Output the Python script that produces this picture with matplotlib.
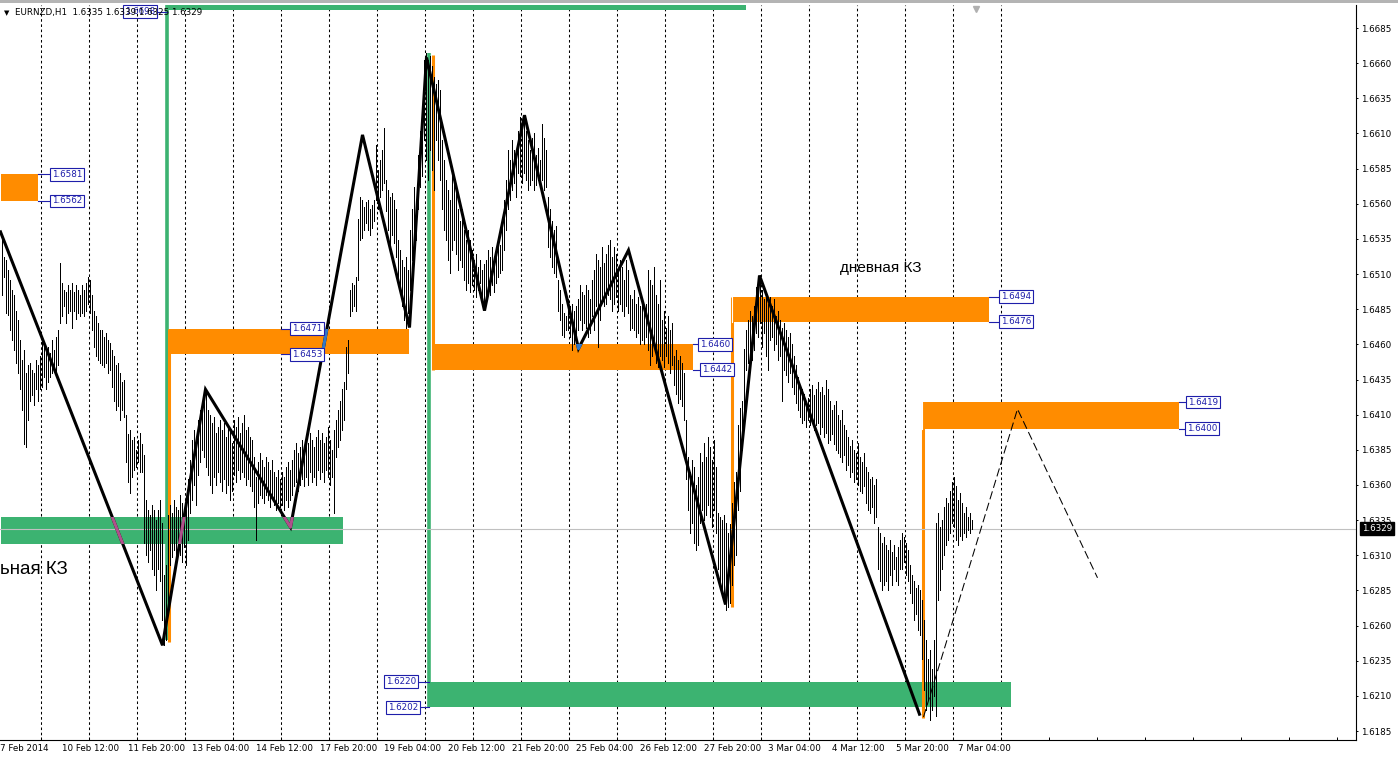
import matplotlib
matplotlib.use("Agg")
import matplotlib.pyplot as plt
from matplotlib.patches import Rectangle
import numpy as np

W, H, DPI = 1398, 758, 100

# ---------------- data (prices in 1e-4 units) ----------------
highs = [
    16538,16522,16520,16513,16506,16499,16495,16484,16477,16463,
    16449,16456,16440,16445,16447,16442,16440,16449,16445,16452,
    16463,16461,16456,16458,16454,16463,16456,16465,16470,16518,
    16504,16499,16497,16502,16499,16504,16497,16502,16499,16495,
    16502,16499,16504,16508,16506,16495,16484,16480,16475,16470,
    16470,16465,16468,16463,16461,16456,16452,16445,16447,16440,
    16433,16435,16410,16396,16399,16392,16394,16385,16392,16397,
    16389,16381,16349,16342,16339,16346,16342,16335,16342,16349,
    16333,16296,16303,16339,16346,16340,16349,16344,16342,16353,
    16347,16342,16349,16364,16378,16392,16399,16387,16406,16413,
    16420,16428,16426,16413,16410,16404,16408,16397,16401,16406,
    16399,16404,16394,16401,16399,16390,16406,16401,16408,16397,
    16404,16410,16399,16401,16394,16392,16380,16366,16376,16383,
    16378,16373,16380,16376,16371,16378,16369,16366,16371,16364,
    16369,16366,16373,16376,16371,16378,16385,16390,16383,16387,
    16392,16385,16394,16390,16397,16392,16387,16394,16399,16392,
    16397,16390,16394,16401,16392,16385,16399,16406,16413,16420,
    16428,16433,16458,16463,16499,16504,16502,16508,16549,16565,
    16563,16558,16561,16563,16556,16559,16563,16602,16584,16591,
    16598,16614,16577,16570,16565,16568,16563,16556,16534,16527,
    16520,16515,16522,16513,16541,16556,16572,16563,16595,16612,
    16622,16662,16667,16662,16665,16658,16650,16645,16648,16641,
    16605,16591,16577,16570,16563,16584,16577,16570,16556,16548,
    16556,16541,16534,16541,16534,16527,16520,16524,16515,16520,
    16513,16517,16520,16527,16522,16529,16520,16524,16534,16531,
    16548,16563,16577,16598,16591,16605,16598,16591,16612,16622,
    16617,16620,16612,16605,16598,16607,16610,16595,16600,16591,
    16617,16607,16598,16565,16556,16548,16541,16544,16506,16499,
    16489,16482,16480,16492,16487,16489,16484,16487,16492,16502,
    16497,16495,16502,16499,16492,16506,16513,16524,16520,16515,
    16529,16518,16524,16531,16534,16522,16529,16524,16513,16520,
    16515,16506,16520,16513,16495,16492,16499,16489,16494,16487,
    16492,16484,16489,16513,16506,16502,16515,16495,16489,16506,
    16477,16484,16472,16480,16470,16475,16452,16456,16449,16452,
    16447,16440,16406,16380,16369,16378,16373,16360,16366,16383,
    16376,16390,16380,16394,16387,16378,16392,16373,16340,16337,
    16335,16339,16333,16326,16332,16347,16362,16369,16403,16415,
    16420,16457,16470,16477,16484,16480,16487,16501,16508,16506,
    16499,16492,16496,16489,16494,16487,16492,16480,16484,16477,
    16472,16475,16470,16465,16468,16460,16452,16445,16437,16431,
    16428,16425,16418,16422,16428,16431,16424,16428,16433,16426,
    16430,16424,16435,16428,16420,16413,16417,16420,16410,16406,
    16413,16403,16399,16394,16388,16392,16385,16383,16390,16380,
    16376,16383,16373,16369,16364,16366,16360,16364,16330,16326,
    16319,16323,16317,16314,16321,16312,16317,16309,16316,16321,
    16326,16323,16319,16314,16303,16296,16292,16287,16289,16285,
    16278,16264,16250,16236,16243,16229,16250,16333,16340,16330,
    16335,16344,16351,16347,16356,16362,16366,16359,16349,16354,
    16347,16340,16344,16337,16340,16335,
]
lows = [
    16495,16508,16482,16481,16470,16463,16456,16447,16440,16428,
    16413,16389,16387,16406,16420,16424,16417,16428,16420,16428,
    16430,16437,16428,16433,16437,16440,16442,16438,16445,16475,
    16480,16487,16475,16482,16484,16472,16484,16478,16482,16480,
    16482,16480,16484,16489,16482,16470,16458,16452,16449,16447,
    16445,16444,16447,16440,16442,16430,16420,16413,16416,16406,
    16413,16408,16376,16362,16354,16366,16371,16373,16376,16369,
    16369,16319,16310,16305,16314,16300,16296,16285,16300,16292,
    16264,16246,16250,16268,16303,16309,16314,16305,16312,16310,
    16305,16316,16303,16321,16340,16349,16360,16346,16367,16376,
    16385,16380,16373,16367,16360,16354,16366,16360,16369,16362,
    16356,16364,16354,16360,16349,16356,16367,16362,16371,16364,
    16369,16366,16360,16364,16359,16356,16344,16321,16347,16353,
    16351,16347,16353,16349,16344,16351,16346,16342,16347,16344,
    16346,16342,16349,16344,16349,16353,16359,16362,16356,16360,
    16364,16359,16366,16360,16369,16362,16366,16360,16371,16364,
    16369,16362,16371,16366,16360,16366,16340,16380,16387,16392,
    16399,16406,16428,16440,16480,16484,16487,16484,16506,16534,
    16536,16541,16546,16541,16538,16543,16548,16563,16556,16565,
    16570,16575,16555,16541,16529,16538,16532,16522,16506,16499,
    16487,16477,16472,16482,16499,16520,16527,16534,16556,16572,
    16580,16605,16591,16577,16598,16584,16570,16605,16591,16577,
    16556,16541,16534,16520,16511,16527,16534,16524,16513,16520,
    16515,16506,16499,16504,16497,16502,16499,16494,16499,16504,
    16494,16489,16492,16499,16495,16502,16497,16504,16508,16511,
    16513,16527,16541,16556,16563,16570,16575,16565,16582,16580,
    16575,16582,16577,16570,16573,16577,16570,16573,16577,16572,
    16577,16570,16572,16529,16522,16515,16511,16508,16484,16477,
    16467,16465,16470,16470,16465,16456,16460,16463,16470,16477,
    16470,16475,16472,16465,16468,16480,16470,16487,16458,16477,
    16492,16487,16489,16495,16492,16484,16489,16494,16484,16489,
    16484,16480,16487,16482,16470,16472,16470,16465,16468,16460,
    16463,16460,16465,16456,16445,16452,16458,16447,16444,16452,
    16449,16444,16452,16447,16440,16445,16431,16425,16418,16421,
    16416,16406,16364,16342,16326,16333,16319,16314,16317,16333,
    16342,16335,16339,16346,16337,16330,16342,16326,16300,16292,
    16285,16278,16271,16273,16276,16289,16303,16310,16342,16356,
    16385,16406,16442,16447,16454,16449,16456,16468,16465,16475,
    16458,16468,16452,16442,16463,16465,16456,16460,16449,16452,
    16420,16442,16438,16433,16440,16430,16425,16418,16413,16408,
    16404,16406,16401,16406,16403,16408,16399,16403,16404,16396,
    16401,16394,16397,16390,16392,16396,16389,16385,16383,16380,
    16376,16381,16371,16374,16366,16369,16362,16364,16360,16356,
    16354,16359,16347,16342,16340,16344,16333,16337,16300,16292,
    16285,16289,16292,16285,16296,16289,16300,16292,16289,16300,
    16300,16305,16296,16292,16283,16276,16264,16268,16257,16253,
    16236,16214,16200,16207,16193,16200,16210,16196,16278,16285,
    16300,16310,16317,16321,16326,16333,16330,16321,16317,16324,
    16321,16326,16323,16328,16326,16329,
]

# price-axis ticks and the current bid
price_ticks = [1.6185 + 0.0025 * k for k in range(21)]
bid = 1.6329
header = "EURNZD,H1  1.6335 1.6339 1.6325 1.6329"

# date labels: (bar position, text)
date_bars = [-0.5, 30.5, 63, 95, 127, 159.5, 191.5, 223.5, 255, 287.5,
             319.5, 351, 383, 415, 447, 478.5]
date_texts = ["7 Feb 2014", "10 Feb 12:00", "11 Feb 20:00", "13 Feb 04:00",
              "14 Feb 12:00", "17 Feb 20:00", "19 Feb 04:00", "20 Feb 12:00",
              "21 Feb 20:00", "25 Feb 04:00", "26 Feb 12:00", "27 Feb 20:00",
              "3 Mar 04:00", "4 Mar 12:00", "5 Mar 20:00", "7 Mar 04:00"]
grid_first, grid_step, grid_count, tick_count = 19.85, 24, 21, 28

# zigzag swing points (bar, price)
zz_bar = [-0.5, 80.5, 102, 144.5, 180.5, 204, 212.5, 241.5, 261.5, 288.5,
          313.5, 362, 379, 459]
zz_price = [1.6540, 1.6246, 1.6428, 1.6330, 1.6609, 1.6472, 1.6664, 1.6484,
            1.6623, 1.6457, 1.6527, 1.6275, 1.6509, 1.6197]

# dashed forecast
fc_bar = [461, 508, 548]
fc_price = [1.6195, 1.6414, 1.6294]

# zones: (bar_from, bar_to, price_low, price_high)
orange_zones = [(-0.5, 18.0, 1.6562, 1.6581),
                (83.5, 203.5, 1.6453, 1.6471),
                (215.5, 345.5, 1.6442, 1.6460),
                (365.0, 493.5, 1.6476, 1.6494),
                (460.0, 588.5, 1.6400, 1.6419)]
green_zones = [(-0.5, 170.5, 1.6318, 1.6337),
               (82.5, 372.0, 1.6698, 1.6720),
               (213.5, 504.5, 1.6202, 1.6220)]
# vertical impulse lines: (bar, price_from, price_to)
green_vlines = [(82.5, 1.6250, 1.6720), (213.5, 1.6202, 1.6667)]
orange_vlines = [(83.5, 1.6248, 1.6471), (215.5, 1.6442, 1.6666),
                 (365.0, 1.6273, 1.6494), (460.5, 1.6194, 1.6419)]

# price labels: (price, connector_from_bar, box_bar, side)
price_labels = [(1.6581, 18.0, 24.0, 'r'), (1.6562, 18.0, 24.0, 'r'),
                (1.6471, 139.5, 144.0, 'r'), (1.6453, 139.5, 144.0, 'r'),
                (1.6460, 345.5, 348.0, 'r'), (1.6442, 345.5, 349.0, 'r'),
                (1.6494, 493.5, 498.5, 'r'), (1.6476, 493.5, 498.5, 'r'),
                (1.6419, 588.5, 592.0, 'r'), (1.6400, 588.5, 591.5, 'r'),
                (1.6220, 213.5, 208.5, 'l'), (1.6202, 213.5, 209.5, 'l')]

# ---------------- figure ----------------
NAVY = '#1e1eaa'
ORANGE = '#ff8c00'
GREEN = '#3cb371'
PINK = '#b0508c'
BLUE = '#3278c8'

fig = plt.figure(figsize=(W / DPI, H / DPI), dpi=DPI, facecolor='white')
ax = fig.add_axes([0, 18 / H, 1356 / W, 735 / H])
ax.set_xlim(-0.75, 677.25)
ax.set_ylim(1.617864, 1.670136)
ax.set_facecolor('white')

for s in ['left', 'top']:
    ax.spines[s].set_visible(False)
for s in ['right', 'bottom']:
    ax.spines[s].set_color('black')
    ax.spines[s].set_linewidth(0.8)

# grid
for k in range(grid_count):
    ax.axvline(grid_first + grid_step * k, color='black', lw=0.75,
               linestyle=(0, (2.5, 2.5)), zorder=1)

# zones
for (b0, b1, p0, p1) in orange_zones:
    ax.add_patch(Rectangle((b0, p0), b1 - b0, p1 - p0, facecolor=ORANGE,
                           edgecolor='none', zorder=2))
for (b0, b1, p0, p1) in green_zones:
    ax.add_patch(Rectangle((b0, p0), b1 - b0, p1 - p0, facecolor=GREEN,
                           edgecolor='none', zorder=2))
for (b, p0, p1) in green_vlines:
    ax.plot([b, b], [p0, p1], color=GREEN, lw=2.6, zorder=2.2,
            solid_capstyle='butt')
for (b, p0, p1) in orange_vlines:
    ax.plot([b, b], [p0, p1], color=ORANGE, lw=2.2, zorder=2.3,
            solid_capstyle='butt')
# white cores where the vertical meets its own zone
for (b0, b1, p0, p1) in orange_zones[3:]:
    ax.plot([b0 + 0.2, b0 + 0.2], [p0, p1], color='white', lw=0.8, zorder=2.4)

# bid line
ax.axhline(bid, color='#c0c0c0', lw=0.8, zorder=2.5)

# bars (thin HL bars, one per hour)
idx = np.arange(len(highs))
ax.vlines(idx, np.array(lows) / 1e4, np.array(highs) / 1e4, color='black',
          lw=0.5, zorder=3, antialiased=False)

# zigzag
ax.plot(zz_bar, zz_price, color='black', lw=2.2, zorder=4,
        solid_joinstyle='miter')
clip_specs = [(green_zones[0], PINK),
              (orange_zones[1], BLUE),
              ((283.0, 296.0, orange_zones[2][2], orange_zones[2][3]), BLUE)]
for (b0, b1, p0, p1), col in clip_specs:
    ln, = ax.plot(zz_bar, zz_price, color=col, lw=2.2, zorder=4.1)
    clip = Rectangle((b0, p0), b1 - b0, p1 - p0, transform=ax.transData)
    ln.set_clip_path(clip)

# forecast
ax.plot(fc_bar, fc_price, color='black', lw=0.75, dashes=(8, 3.5), zorder=4)

# price labels
def price_label(p, x_from, x_box, side, shown=None, fc='white', y=None):
    yy = p if y is None else y
    ax.plot([x_from, x_box], [yy, yy], color=NAVY, lw=0.8, zorder=6)
    off = 1.8 if side == 'r' else -1.8
    ax.annotate(f"{p:.4f}" if shown is None else shown, xy=(x_box, yy),
                xytext=(off, 0), textcoords='offset points',
                ha='left' if side == 'r' else 'right', va='center',
                fontsize=6.3, color=NAVY, zorder=7, annotation_clip=False,
                bbox=dict(boxstyle='square,pad=0.22', fc=fc, ec=NAVY, lw=0.8))

for (p, xf, xb, sd) in price_labels:
    price_label(p, xf, xb, sd)

# header text and its overlapping label
fig.text(4 / W, 1 - 13 / H, "\u25bc", fontsize=5, va='center', ha='left')
fig.text(15 / W, 1 - 13 / H, header, fontsize=6.3, va='center', ha='left')
price_label(1.6698, 82.5, 78.0, 'l', fc='none', y=1.66965)

# annotations
ax.text(439.5, 1.65144, "дневная КЗ", fontsize=11, ha='center', va='center',
        family=['Liberation Sans', 'DejaVu Sans'], zorder=6)
ax.text(-0.5, 1.6300, "ьная КЗ", fontsize=13.5, ha='left', va='center',
        family=['Liberation Sans', 'DejaVu Sans'], zorder=6)

# axes ticks
ax.yaxis.tick_right()
ax.set_yticks(price_ticks)
ax.set_yticklabels([f"{t:.4f}" for t in price_ticks])
ax.tick_params(axis='y', direction='out', length=1.6, width=0.7, pad=2,
               labelsize=6.3, colors='black')
ax.set_xticks([grid_first + grid_step * k for k in range(tick_count)])
ax.tick_params(axis='x', direction='in', length=2.2, width=0.7,
               labelbottom=False)
for b, t in zip(date_bars, date_texts):
    ax.annotate(t, xy=(b, 0), xycoords=('data', 'axes fraction'),
                xytext=(0, -6), textcoords='offset points', ha='left',
                va='center', fontsize=6.3, annotation_clip=False)

# current bid box on the price axis
ax.annotate(f"{bid:.4f}", xy=(1, bid), xycoords=('axes fraction', 'data'),
            xytext=(4.2, 0), textcoords='offset points', ha='left',
            va='center', fontsize=6.3, color='white', zorder=8,
            annotation_clip=False,
            bbox=dict(boxstyle='square,pad=0.2', fc='black', ec='black'))

# chart shift marker and window border
ax.plot([487], [1.66985], marker='v', color='#b0b0b0', markersize=5,
        clip_on=False, zorder=8)
fig.add_artist(Rectangle((0, 1 - 3 / H), 1, 3 / H, transform=fig.transFigure,
                         facecolor='#b4b4b4', edgecolor='none'))

fig.savefig("out.png", dpi=DPI, facecolor='white')
